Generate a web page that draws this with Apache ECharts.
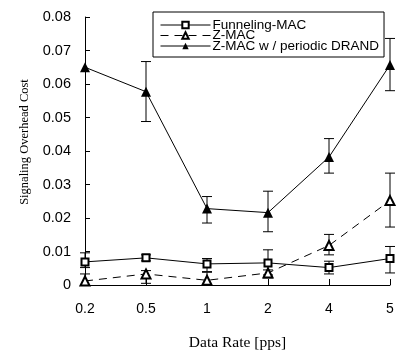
<!DOCTYPE html>
<html><head><meta charset="utf-8">
<script src="https://cdn.jsdelivr.net/npm/echarts@6/dist/echarts.min.js"></script>
<style>html,body{margin:0;padding:0;background:#fff}#c{width:404px;height:356px}</style>
</head><body><div id="c"></div>
<script>
const categories = ['0.2','0.5','1','2','4','5'];
const yTicks = [0,0.01,0.02,0.03,0.04,0.05,0.06,0.07,0.08];
const funnelingMAC = [0.0069,0.0081,0.0063,0.0066,0.0052,0.0079];
const funnelingLow = [0.0052,0.0072,0.0040,0.0030,0.0033,0.0036];
const funnelingHigh = [0.0096,0.0090,0.0079,0.0105,0.0071,0.0115];
const zMAC = [0.0012,0.0033,0.0014,0.0036,0.0118,0.0252];
const zMACLow = [0.0000,0.0005,0.0000,0.0021,0.0090,0.0173];
const zMACHigh = [0.0033,0.0043,0.0038,0.0045,0.0151,0.0334];
const zMACDrand = [0.0650,0.0577,0.0228,0.0216,0.0382,0.0657];
const zMACDrandLow = [null,0.0488,0.0185,0.0159,0.0334,0.0580];
const zMACDrandHigh = [null,0.0667,0.0264,0.0280,0.0437,0.0736];
const names = ['Funneling-MAC','Z-MAC','Z-MAC w / periodic DRAND'];

function errData(lo, hi){
  const out=[];
  for(let i=0;i<lo.length;i++){ if(lo[i]!==null) out.push([i,lo[i],hi[i]]); }
  return out;
}
function renderErr(params, api){
  const x = api.value(0);
  const a = api.coord([x, api.value(1)]);
  const b = api.coord([x, api.value(2)]);
  const hw = 5;
  const st = {stroke:'#000', lineWidth:1};
  return {type:'group', children:[
    {type:'line', shape:{x1:a[0],y1:a[1],x2:b[0],y2:b[1]}, style:st},
    {type:'line', shape:{x1:a[0]-hw,y1:a[1],x2:a[0]+hw,y2:a[1]}, style:st},
    {type:'line', shape:{x1:b[0]-hw,y1:b[1],x2:b[0]+hw,y2:b[1]}, style:st}
  ]};
}
const chart = echarts.init(document.getElementById('c'), null, {renderer:'canvas'});
chart.setOption({
  animation:false,
  backgroundColor:'#fff',
  grid:{left:85,right:14,top:17,bottom:62},
  legend:{
    data:names, orient:'vertical', left:153, top:12,
    itemWidth:50, itemHeight:8, itemGap:-3.5,
    padding:[6,5,4,7],
    borderColor:'#000', borderWidth:1, backgroundColor:'#fff', borderRadius:0,
    lineStyle:{width:1},
    itemStyle:{borderWidth:1},
    textStyle:{fontFamily:'Liberation Sans, Arial', fontSize:13.5, color:'#000', padding:[0,0,0,-3]}
  },
  xAxis:{
    type:'category', data:categories, boundaryGap:false,
    name:'Data Rate [pps]', nameLocation:'middle', nameGap:50,
    nameTextStyle:{fontFamily:'Liberation Serif, Times New Roman', fontSize:15.5, color:'#000'},
    axisLine:{lineStyle:{color:'#000',width:1}},
    axisTick:{inside:true,length:6,lineStyle:{color:'#000'}},
    axisLabel:{fontFamily:'Liberation Sans, Arial', fontSize:14, color:'#000', margin:17},
    splitLine:{show:false}
  },
  yAxis:{
    type:'value', min:0, max:0.08, interval:0.01,
    name:'Signaling Overhead Cost', nameLocation:'middle', nameGap:54,
    nameTextStyle:{fontFamily:'Liberation Serif, Times New Roman', fontSize:12.5, color:'#000', padding:[0,0,0,18]},
    axisLine:{show:true,lineStyle:{color:'#000',width:1}},
    axisTick:{show:true,inside:true,length:5,lineStyle:{color:'#000'}},
    axisLabel:{fontFamily:'Liberation Sans, Arial', fontSize:14.5, color:'#000', margin:14,
      formatter:function(v){ return v===0?'0':v.toFixed(2); }},
    splitLine:{show:false}
  },
  series:[
    {type:'custom', renderItem:renderErr, data:errData(funnelingLow,funnelingHigh), z:2, silent:true},
    {type:'custom', renderItem:renderErr, data:errData(zMACLow,zMACHigh), z:2, silent:true},
    {type:'custom', renderItem:renderErr, data:errData(zMACDrandLow,zMACDrandHigh), z:2, silent:true},
    {name:names[0], type:'line', data:funnelingMAC, symbol:'emptyRect', symbolSize:7,
      lineStyle:{color:'#000',width:1}, itemStyle:{color:'#000',borderColor:'#000',borderWidth:1}, z:3},
    {name:names[1], type:'line', data:zMAC, symbol:'emptyTriangle', symbolSize:9,
      lineStyle:{color:'#000',width:1,type:[8,6]}, itemStyle:{color:'#000',borderColor:'#000',borderWidth:1}, z:3},
    {name:names[2], type:'line', data:zMACDrand, symbol:'triangle', symbolSize:10,
      lineStyle:{color:'#000',width:1}, itemStyle:{color:'#000'}, z:3}
  ]
});
</script></body></html>
